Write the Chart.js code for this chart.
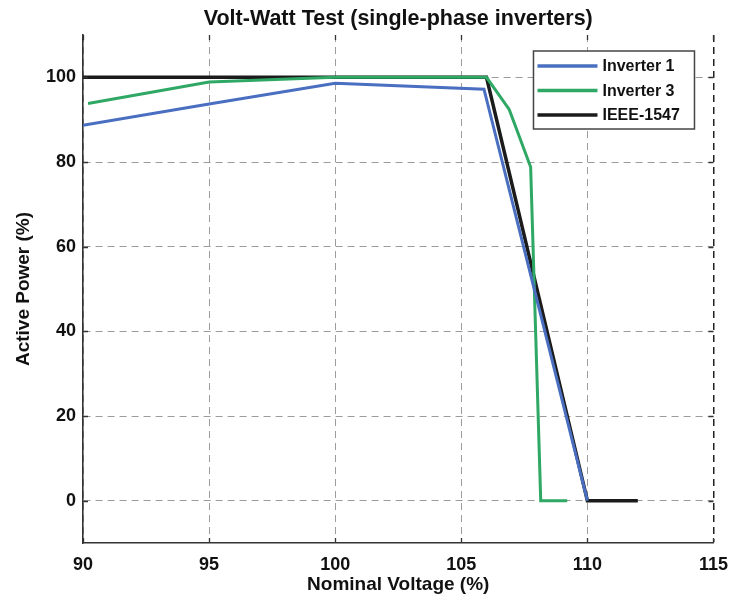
<!DOCTYPE html>
<html>
<head>
<meta charset="utf-8">
<script src="https://cdn.jsdelivr.net/npm/chart.js@4.4.0/dist/chart.umd.min.js"></script>
<style>
html,body{margin:0;padding:0;background:#fff;}
#wrap{width:739px;height:608px;}
</style>
</head>
<body>
<div id="wrap"><canvas id="c" width="739" height="608"></canvas></div>
<script>
// ---- data ----
const chartTitle = 'Volt-Watt Test (single-phase inverters)';
const xTitle = 'Nominal Voltage (%)';
const yTitle = 'Active Power (%)';
const seriesNames = ['Inverter 1', 'Inverter 3', 'IEEE-1547'];

const inv1Voltage = [90, 95, 100, 105.9, 110];
const inv1Power   = [88.7, 93.7, 98.6, 97.2, 0];

const inv3Voltage = [90.2, 95, 100, 106, 106.9, 107.75, 108.15, 109.2];
const inv3Power   = [93.8, 98.9, 100, 100, 92.4, 78.8, 0, 0];

const ieeeVoltage = [90, 106, 110, 112];
const ieeePower   = [100, 100, 0, 0];

const xTicks = [90, 95, 100, 105, 110, 115];
const yTicks = [0, 20, 40, 60, 80, 100];
const xRange = [90, 115];
const yRange = [-10, 110];

const colors = ['#4a6fc1', '#2fa865', '#1b1b1b'];

function pts(xs, ys){ return xs.map((x,i)=>({x:x, y:ys[i]})); }

const FONT = '"Liberation Sans", Arial, Helvetica, sans-serif';

const titlePlugin = {
  id:'topTitle',
  afterDraw(chart){
    const {ctx, chartArea} = chart;
    ctx.save();
    ctx.font = 'bold 21.5px ' + FONT;
    ctx.fillStyle = '#111';
    ctx.textAlign = 'center';
    ctx.textBaseline = 'middle';
    ctx.fillText(chartTitle, (chartArea.left + chartArea.right)/2, 19);
    ctx.restore();
  }
};

const tickPlugin = {
  id:'innerTicks',
  afterDatasetsDraw(chart){
    const {ctx, chartArea, scales} = chart;
    const L = 5;
    ctx.save();
    ctx.strokeStyle = '#333';
    ctx.lineWidth = 1.3;
    ctx.beginPath();
    scales.x.ticks.forEach(t=>{
      const px = Math.round(scales.x.getPixelForValue(t.value)) + 0.5;
      ctx.moveTo(px, chartArea.bottom); ctx.lineTo(px, chartArea.bottom - L);
      ctx.moveTo(px, chartArea.top); ctx.lineTo(px, chartArea.top + L);
    });
    scales.y.ticks.forEach(t=>{
      const py = Math.round(scales.y.getPixelForValue(t.value)) + 0.5;
      ctx.moveTo(chartArea.left, py); ctx.lineTo(chartArea.left + L, py);
      ctx.moveTo(chartArea.right, py); ctx.lineTo(chartArea.right - L, py);
    });
    ctx.stroke();
    ctx.restore();
  }
};

const legendPlugin = {
  id:'boxLegend',
  afterDraw(chart){
    const {ctx, chartArea} = chart;
    const w = 161, h = 78;
    const bx = chartArea.right - 19 - w;
    const by = chartArea.top + 16;
    ctx.save();
    ctx.fillStyle = '#fff';
    ctx.fillRect(bx, by, w, h);
    ctx.strokeStyle = '#444';
    ctx.lineWidth = 1.5;
    ctx.strokeRect(bx, by, w, h);
    ctx.font = 'bold 16px ' + FONT;
    ctx.textBaseline = 'middle';
    ctx.textAlign = 'left';
    chart.data.datasets.forEach((ds, i)=>{
      const y = by + 15 + i*24.5;
      ctx.strokeStyle = ds.borderColor;
      ctx.lineWidth = 3.5;
      ctx.beginPath();
      ctx.moveTo(bx + 4, y); ctx.lineTo(bx + 64, y);
      ctx.stroke();
      ctx.fillStyle = '#111';
      ctx.fillText(ds.label, bx + 69, y + 1);
    });
    ctx.restore();
  }
};

const datasets = [
  {label: seriesNames[0], data: pts(inv1Voltage, inv1Power), borderColor: colors[0], borderWidth: 3},
  {label: seriesNames[1], data: pts(inv3Voltage, inv3Power), borderColor: colors[1], borderWidth: 3},
  {label: seriesNames[2], data: pts(ieeeVoltage, ieeePower), borderColor: colors[2], borderWidth: 3.5}
].map(d=>Object.assign(d, {pointRadius:0, fill:false, tension:0, backgroundColor:d.borderColor}));

new Chart(document.getElementById('c'), {
  type:'line',
  data:{datasets: datasets},
  options:{
    responsive:false,
    animation:false,
    devicePixelRatio:1,
    layout:{padding:{left:0, right:16, top:35, bottom:0}},
    plugins:{legend:{display:false}, title:{display:false}, tooltip:{enabled:false}},
    scales:{
      x:{
        type:'linear', min:xRange[0], max:xRange[1],
        afterBuildTicks: s => { s.ticks = xTicks.map(v=>({value:v})); },
        afterFit: s => { s.height = 65; },
        ticks:{font:{family:FONT, size:18, weight:'bold'}, color:'#111', padding:11, maxRotation:0},
        grid:{drawTicks:false, color: c => (c.tick && c.tick.value === 115) ? '#222' : '#9c9c9c',
              lineWidth: c => (c.tick && c.tick.value === 115) ? 1.5 : 1},
        border:{display:true, color:'#333', width:1.6, dash:[7,5]},
        title:{display:true, text:xTitle, font:{family:FONT, size:19, weight:'bold'}, color:'#111', padding:{top:0, bottom:12}}
      },
      y:{
        type:'linear', min:yRange[0], max:yRange[1],
        afterBuildTicks: s => { s.ticks = yTicks.map(v=>({value:v})); },
        afterFit: s => { s.width = 83; },
        ticks:{font:{family:FONT, size:18, weight:'bold'}, color:'#111', padding:7},
        grid:{drawTicks:false, color:'#9c9c9c', lineWidth:1},
        border:{display:true, color:'#333', width:1.6, dash:[7,5]},
        title:{display:true, text:yTitle, font:{family:FONT, size:19, weight:'bold'}, color:'#111', padding:{top:12, bottom:0}}
      }
    }
  },
  plugins:[titlePlugin, tickPlugin, legendPlugin]
});
</script>
</body>
</html>
